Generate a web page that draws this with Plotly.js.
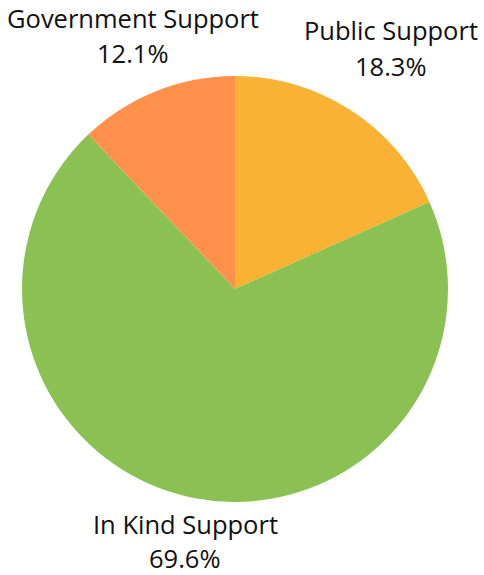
<!DOCTYPE html>
<html>
<head>
<meta charset="utf-8">
<script src="https://cdn.plot.ly/plotly-3.0.1.min.js"></script>
<style>html,body{margin:0;padding:0;background:#fff;}#chart{width:484px;height:575px;}</style>
</head>
<body>
<div id="chart"></div>
<script>
const categories = ["Public Support", "In Kind Support", "Government Support"];
const shares = [18.3, 69.6, 12.1];
const colors = ["#F9B233", "#8BC153", "#FF914D"];

// label anchor positions (pixels in the 484x575 frame): name line and percent line
const labelX = [391, 185, 133];
const labelNameY = [30, 524, 18];
const labelPctY = [66, 558, 53];

const W = 484, H = 575;
const font = {family: "'Open Sans', sans-serif", size: 25.5, color: "#111111"};

const trace = {
  type: "pie",
  labels: categories,
  values: shares,
  sort: false,
  direction: "clockwise",
  rotation: 0,
  marker: {colors: colors, line: {color: "#ffffff", width: 0}},
  textinfo: "none",
  hoverinfo: "label+percent",
  showlegend: false,
  domain: {x: [0.0455, 0.9256], y: [0.127, 0.868]}
};

const annotations = [];
categories.forEach((c, i) => {
  annotations.push({
    xref: "paper", yref: "paper", x: labelX[i] / W, y: 1 - labelNameY[i] / H,
    xanchor: "center", yanchor: "middle", showarrow: false, borderpad: 0,
    text: c, font: font
  });
  annotations.push({
    xref: "paper", yref: "paper", x: labelX[i] / W, y: 1 - labelPctY[i] / H,
    xanchor: "center", yanchor: "middle", showarrow: false, borderpad: 0,
    text: shares[i].toFixed(1) + "%", font: font
  });
});

const layout = {
  width: W,
  height: H,
  margin: {l: 0, r: 0, t: 0, b: 0},
  paper_bgcolor: "#ffffff",
  showlegend: false,
  annotations: annotations
};

Plotly.newPlot("chart", [trace], layout, {displayModeBar: false, staticPlot: true});
</script>
</body>
</html>
